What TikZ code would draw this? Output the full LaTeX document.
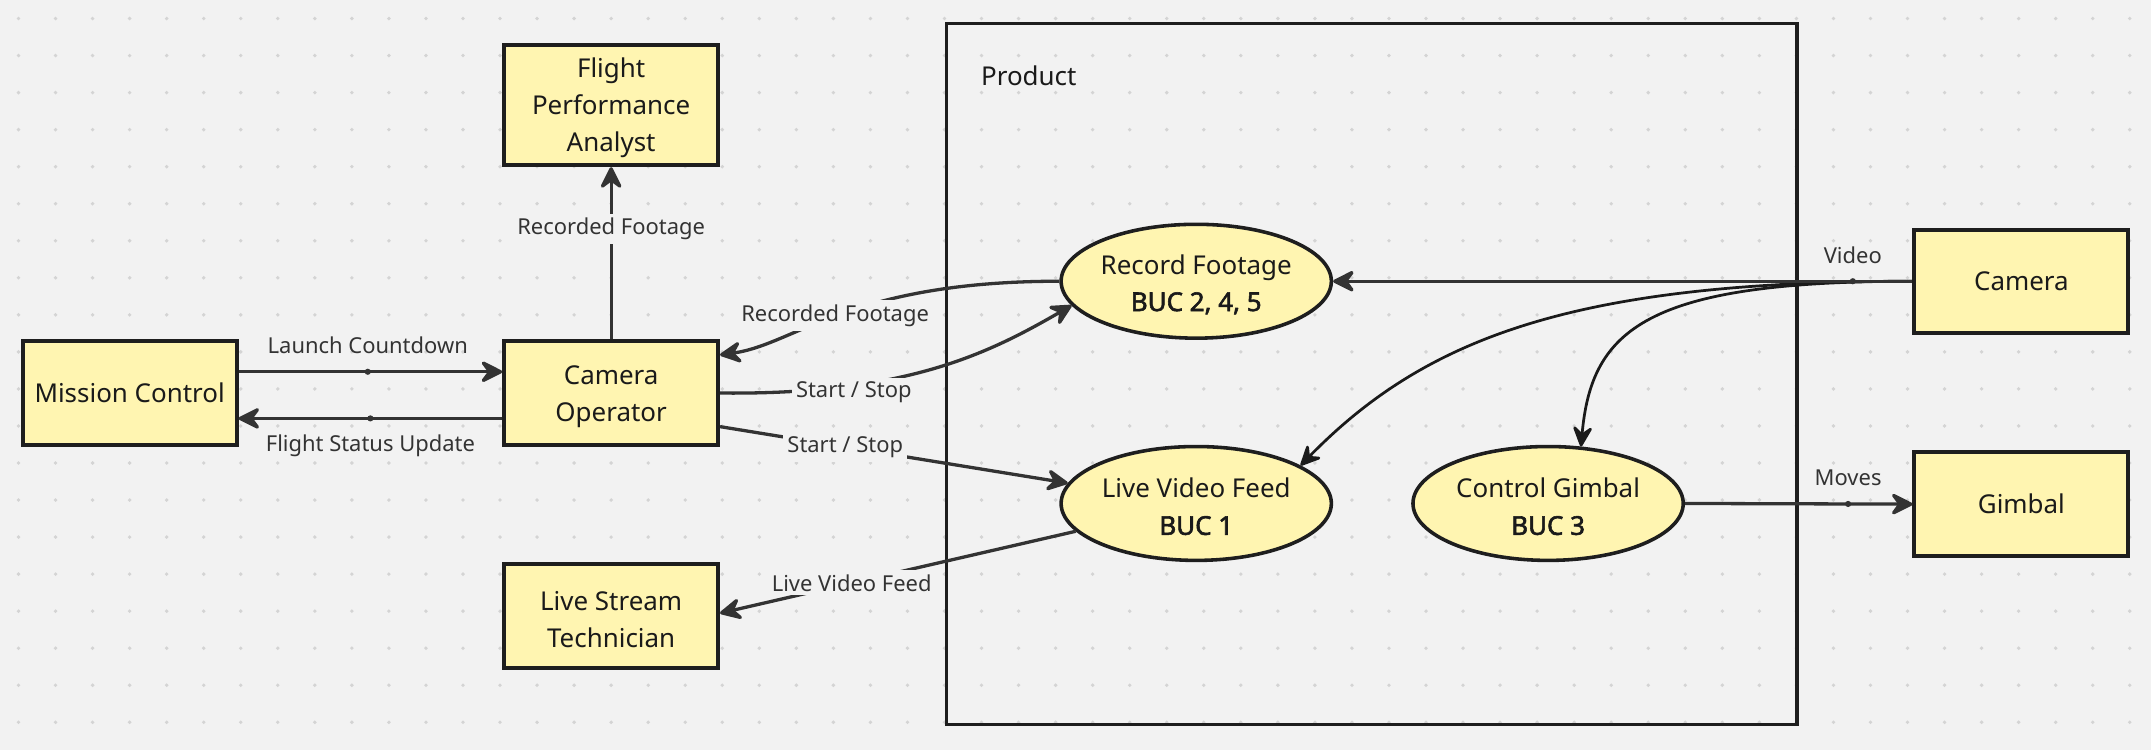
\documentclass[tikz,border=0pt]{standalone}
\usepackage{fontspec}
\setmainfont{Noto Sans}
\newfontfamily\bucfont{Noto Sans}[FakeBold=2.2]
\usetikzlibrary{arrows.meta,shapes.geometric,calc}
\definecolor{bgc}{HTML}{F2F2F2}
\definecolor{dotc}{HTML}{D4D4D4}
\definecolor{boxfill}{HTML}{FFF5B1}
\definecolor{edge}{HTML}{1E1E1E}
\definecolor{linec}{HTML}{333333}
\definecolor{curvec}{HTML}{1A1A1A}
\definecolor{labc}{HTML}{333333}
\definecolor{txtc}{HTML}{1A1A1A}
\newcommand\mynodefont{\fontsize{18.9pt}{27pt}\selectfont}
\newcommand\mylabfont{\fontsize{16pt}{19pt}\selectfont}
\newcommand\buc[1]{{\bucfont #1}}
\begin{document}
\begin{tikzpicture}[x=1pt,y=-1pt,
  box/.style={draw=edge, line width=2.8pt, fill=boxfill, minimum width=156pt, align=center, font=\mynodefont, text=txtc, inner sep=0pt},
  uc/.style={ellipse, draw=edge, line width=2.6pt, fill=boxfill, minimum width=197pt, minimum height=83pt, align=center, font=\mynodefont, text=txtc, inner sep=0pt},
  conn/.style={draw=linec, line width=2.4pt, -{Stealth[length=19pt,width=19pt,inset=7pt,round]}},
  thinconn/.style={draw=curvec, line width=2pt, -{Stealth[length=18pt,width=17pt,inset=7pt,round]}},
  lab/.style={font=\mylabfont, text=labc, fill=bgc, inner sep=3pt},
  middot/.style={fill=linec, circle, inner sep=0pt, minimum size=4.5pt}
]
\useasboundingbox (0,0) rectangle (1568,546.7);
\fill[bgc] (0,0) rectangle (1568,546.7);
\foreach \i in {0,...,57}{\foreach \j in {0,...,19}{\fill[dotc] (13.5+27*\i,13.5+27*\j) circle[radius=1.4pt];}}

% product frame
\draw[edge, line width=2.4pt] (690,17) rectangle (1310,528);
\node[anchor=west, font=\mynodefont, text=txtc, inner sep=0pt] (prod) at (715,55) {Product};

% nodes
\node[box, minimum height=88pt] (fpa) at (445.5,76.5) {\strut Flight\\Performance\\Analyst};
\node[box, minimum height=76pt] (mc) at (94.5,286.5) {Mission Control};
\node[box, minimum height=76pt] (co) at (445.5,286.5) {\strut Camera\\Operator};
\node[box, minimum height=76pt] (ls) at (445.5,449) {\strut Live Stream\\Technician};
\node[box, minimum height=75pt] (cam) at (1473.5,205) {Camera};
\node[box, minimum height=76pt] (gim) at (1473.5,367.5) {Gimbal};
\node[uc] (rf) at (872,205) {\strut Record Footage\\\buc{BUC 2, 4, 5}};
\node[uc] (lv) at (872,367) {\strut Live Video Feed\\\buc{BUC 1}};
\node[uc] (cg) at (1128.5,367) {\strut Control Gimbal\\\buc{BUC 3}};

% connectors
\draw[conn] ([yshift=15.5pt]mc.east) -- node[middot,pos=0.49]{} node[lab,fill=none,pos=0.49,yshift=19pt]{Launch Countdown} ([yshift=15.5pt]co.west);
\draw[conn] ([yshift=-18.5pt]co.west) -- node[middot,pos=0.5]{} node[lab,fill=none,pos=0.5,yshift=-20pt]{Flight Status Update} ([yshift=-18.5pt]mc.east);
\draw[conn] (co.north) -- node[lab,pos=0.64]{Recorded Footage} (fpa.south);
\draw[conn] (rf.west) .. controls (619,205) and (580,251) .. node[lab,pos=0.5,xshift=-3pt,yshift=-1pt]{Recorded Footage} ([yshift=27.8pt]co.east);
\draw[conn] (co.east) .. controls (660,288) and (720,258) .. node[lab,pos=0.28,yshift=-5pt]{Start / Stop} (rf.191);
\draw[conn] ([yshift=-24.5pt]co.east) -- node[lab,pos=0.36]{Start / Stop} (lv.171);
\draw[conn] (lv.193) -- node[lab,pos=0.63]{Live Video Feed} ([yshift=2pt]ls.east);
\draw[thinconn] (cam.west) .. controls (1150,205) and (1040,245) .. (lv.20);
\draw[thinconn] (cam.west) .. controls (1200,205) and (1160,240) .. (cg.60);
\draw[conn] (cam.west) -- node[middot,pos=0.103]{} node[lab,fill=none,pos=0.103,yshift=19pt]{Video} (rf.east);
\draw[conn] (cg.east) -- node[middot,pos=0.717]{} node[lab,fill=none,pos=0.717,yshift=19pt]{Moves} (gim.west);
\end{tikzpicture}
\end{document}
